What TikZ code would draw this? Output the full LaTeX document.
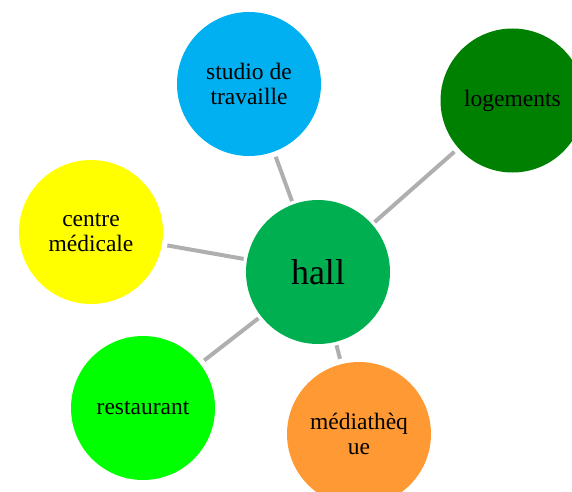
\documentclass[tikz,border=0pt]{standalone}
\usepackage{fontspec}
\setmainfont{Liberation Serif}
\definecolor{hallgreen}{RGB}{0,176,80}
\definecolor{studioblue}{RGB}{0,176,240}
\definecolor{logementsgreen}{RGB}{0,128,0}
\definecolor{medicaleyellow}{RGB}{255,255,0}
\definecolor{restaurantgreen}{RGB}{0,255,0}
\definecolor{mediaorange}{RGB}{255,153,51}
\definecolor{linkgray}{RGB}{175,175,175}
\begin{document}
\begin{tikzpicture}[
		x=1pt, y=1pt,
		bubble/.style={circle, minimum size=144pt, inner sep=0pt, outer sep=0pt, align=center, font=\fontsize{23.5}{25}\selectfont},
		link/.style={draw=linkgray, line width=4pt, shorten <=3.5pt, shorten >=5.5pt}
	]
	\clip (0,0) rectangle (572,491);
	\node[bubble, fill=hallgreen, font=\fontsize{36}{40}\selectfont] (hall) at (318,219) {hall};
	\node[bubble, fill=studioblue] (studio) at (249,407) {studio de\\travaille};
	\node[bubble, fill=logementsgreen] (logements) at (512.5,390.5) {logements};
	\node[bubble, fill=medicaleyellow] (medicale) at (91,259) {centre\\médicale};
	\node[bubble, fill=restaurantgreen] (restaurant) at (143,83) {restaurant};
	\node[bubble, fill=mediaorange] (media) at (359,57) {médiathèq\\ue};
	\draw[link] (hall) -- (studio);
	\draw[link] (hall) -- (logements);
	\draw[link] (hall) -- (medicale);
	\draw[link] (hall) -- (restaurant);
	\draw[link] (hall) -- (media);
\end{tikzpicture}
\end{document}
